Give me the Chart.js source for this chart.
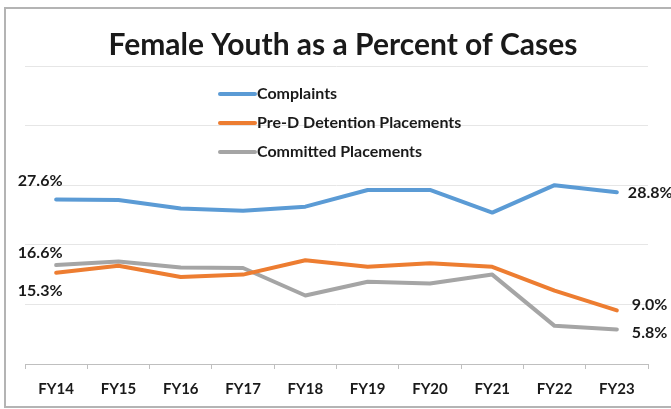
<!DOCTYPE html>
<html>
<head>
<meta charset="utf-8">
<script src="https://cdn.jsdelivr.net/npm/chart.js@4/dist/chart.umd.min.js"></script>
<style>
html,body{margin:0;padding:0;background:#fff;}
#wrap{width:671px;height:409px;position:relative;}
</style>
</head>
<body>
<div id="wrap"><canvas id="c" width="671" height="409"></canvas></div>
<script>
const title = 'Female Youth as a Percent of Cases';
const categories = ['FY14','FY15','FY16','FY17','FY18','FY19','FY20','FY21','FY22','FY23'];
const seriesNames = ['Complaints','Pre-D Detention Placements','Committed Placements'];
const complaints = [27.6, 27.5, 26.1, 25.7, 26.4, 29.2, 29.2, 25.4, 30.0, 28.8];
const preDetention = [15.3, 16.5, 14.6, 15.0, 17.4, 16.3, 16.9, 16.3, 12.3, 9.0];
const committed = [16.6, 17.2, 16.2, 16.1, 11.5, 13.8, 13.5, 15.0, 6.4, 5.8];
const yTicks = [0, 10, 20, 30, 40, 50];

const FONT = 'Lato, "Open Sans", sans-serif';
const colors = ['#5B9BD5', '#ED7D31', '#A5A5A5'];

// label placement for first/last points: [dx, dy, align]
const firstLabelPlace = [[-16, -19, 'center'], [-16, 18, 'center'], [-16, -12, 'center']];
const lastLabelPlace = [[11, 0, 'left'], [15, -6, 'left'], [15, 3, 'left']];

const decorPlugin = {
  id: 'decor',
  beforeDraw(chart) {
    const ctx = chart.ctx;
    ctx.save();
    ctx.fillStyle = '#fff';
    ctx.fillRect(0, 0, chart.width, chart.height);
    ctx.strokeStyle = '#b4b4b4';
    ctx.lineWidth = 2;
    ctx.strokeRect(5, 8, chart.width + 20, chart.height - 10);
    ctx.restore();
  },
  afterDraw(chart) {
    const ctx = chart.ctx;
    ctx.save();
    // title
    ctx.fillStyle = '#1a1a1a';
    ctx.font = 'bold 30px ' + FONT;
    ctx.textAlign = 'center';
    ctx.textBaseline = 'middle';
    ctx.fillText(title, 343, 45);
    // legend
    ctx.font = 'bold 16px ' + FONT;
    ctx.textAlign = 'left';
    chart.data.datasets.forEach((ds, i) => {
      const y = 94 + i * 29;
      ctx.strokeStyle = ds.borderColor;
      ctx.lineWidth = 4;
      ctx.lineCap = 'round';
      ctx.beginPath();
      ctx.moveTo(220, y);
      ctx.lineTo(255, y);
      ctx.stroke();
      ctx.fillStyle = '#1a1a1a';
      ctx.fillText(ds.label, 257, y);
    });
    // data labels
    ctx.font = 'bold 16px ' + FONT;
    chart.data.datasets.forEach((ds, i) => {
      const meta = chart.getDatasetMeta(i);
      const n = ds.data.length;
      [[0, firstLabelPlace[i]], [n - 1, lastLabelPlace[i]]].forEach(([j, p]) => {
        const pt = meta.data[j];
        ctx.textAlign = p[2];
        ctx.fillStyle = '#1a1a1a';
        ctx.fillText(ds.data[j].toFixed(1) + '%', pt.x + p[0], pt.y + p[1]);
      });
    });
    ctx.restore();
  }
};

new Chart(document.getElementById('c'), {
  type: 'line',
  data: {
    labels: categories,
    datasets: [
      { label: seriesNames[0], data: complaints, borderColor: colors[0], backgroundColor: colors[0] },
      { label: seriesNames[1], data: preDetention, borderColor: colors[1], backgroundColor: colors[1] },
      { label: seriesNames[2], data: committed, borderColor: colors[2], backgroundColor: colors[2] }
    ]
  },
  options: {
    responsive: false,
    animation: false,
    devicePixelRatio: 1,
    layout: { padding: { top: 66, left: 25, right: 23, bottom: 0 } },
    elements: {
      line: { borderWidth: 4, tension: 0, borderJoinStyle: 'round', borderCapStyle: 'round' },
      point: { radius: 0, hoverRadius: 0 }
    },
    plugins: { legend: { display: false }, title: { display: false }, tooltip: { enabled: false } },
    scales: {
      x: {
        offset: true,
        grid: { offset: true, drawOnChartArea: false, drawTicks: true, tickLength: 5, color: '#bfbfbf' },
        border: { display: true, color: '#bfbfbf', width: 1 },
        ticks: { color: '#1a1a1a', font: { family: FONT, size: 15, weight: 'bold' }, padding: 11, maxRotation: 0, autoSkip: false }
      },
      y: {
        min: yTicks[0],
        max: yTicks[yTicks.length - 1],
        afterBuildTicks(axis) { axis.ticks = yTicks.map(v => ({ value: v })); },
        ticks: { display: false },
        grid: { color: '#e6e6e6', drawTicks: false },
        border: { display: false }
      }
    }
  },
  plugins: [decorPlugin]
});
</script>
</body>
</html>
